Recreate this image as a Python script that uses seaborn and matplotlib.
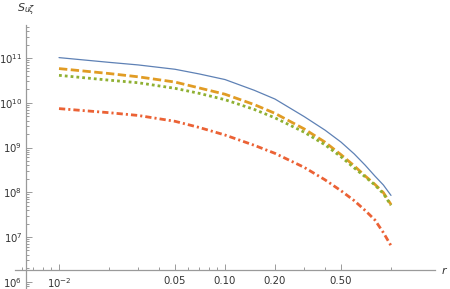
import numpy as np
import matplotlib
matplotlib.use("Agg")
import matplotlib.pyplot as plt
import matplotlib.ticker as mticker
import seaborn as sns

# data (log-log)
r = [0.01, 0.02, 0.03, 0.05, 0.07, 0.1, 0.15, 0.2, 0.3, 0.4, 0.5, 0.6, 0.7, 0.8, 0.9, 1.0]
s_blue = [1.02e11, 8.0e10, 7.0e10, 5.6e10, 4.4e10, 3.3e10, 1.9e10, 1.21e10,
          4.9e9, 2.45e9, 1.32e9, 7.2e8, 4.0e8, 2.3e8, 1.45e8, 8.5e7]
s_orange = [5.8e10, 4.5e10, 3.8e10, 2.9e10, 2.14e10, 1.55e10, 9.1e9, 5.8e9,
            2.6e9, 1.32e9, 6.9e8, 3.9e8, 2.3e8, 1.5e8, 9.8e7, 5.3e7]
s_green = [4.1e10, 3.2e10, 2.8e10, 2.1e10, 1.62e10, 1.17e10, 7.1e9, 4.6e9,
           2.2e9, 1.15e9, 6.2e8, 3.5e8, 2.2e8, 1.45e8, 9.3e7, 5.1e7]
s_red = [7.4e9, 6.0e9, 5.2e9, 3.85e9, 2.8e9, 1.9e9, 1.12e9, 7.4e8,
         3.6e8, 1.9e8, 1.08e8, 6.5e7, 3.9e7, 2.4e7, 1.25e7, 6.4e6]

xticks = [0.01, 0.05, 0.1, 0.2, 0.5]
xtick_labels = ["$10^{-2}$", "0.05", "0.10", "0.20", "0.50"]
xminor = [0.006, 0.007, 0.008, 0.009, 0.02, 0.03, 0.04, 0.06, 0.07, 0.08, 0.09, 0.3, 0.4, 1.0]
yticks = [1e6, 1e7, 1e8, 1e9, 1e10, 1e11]

sns.set_style("white")
plt.rcParams["lines.scale_dashes"] = False
plt.rcParams["font.family"] = ["DejaVu Sans"]
plt.rcParams["mathtext.fontset"] = "dejavusans"

fig = plt.figure(figsize=(4.5, 2.89), dpi=100)


# pixel -> log mapping of the reference picture
def px_to_r(px):
    return 10 ** (-2 + (px - 59) / 166.0)


def py_to_s(py):
    return 10 ** (11 - (py - 58) / 44.75)


ax = fig.add_axes([0, 0, 1, 1])
ax.set_xscale("log")
ax.set_yscale("log")
ax.set_xlim(px_to_r(0), px_to_r(450))
ax.set_ylim(py_to_s(289), py_to_s(0))

sns.lineplot(x=r, y=s_blue, ax=ax, color="#5E81B5", lw=0.9)
sns.lineplot(x=r, y=s_orange, ax=ax, color="#E19C24", lw=2.0, linestyle=(0, (6, 2.5)))
sns.lineplot(x=r, y=s_green, ax=ax, color="#8FB032", lw=2.0, linestyle=(0, (2, 2.2)))
sns.lineplot(x=r, y=s_red, ax=ax, color="#EB6235", lw=2.0, linestyle=(0, (4.5, 2.2, 1.5, 2.2)))

axis_col = "#9a9a9a"
for side in ["top", "right"]:
    ax.spines[side].set_visible(False)
ax.spines["left"].set_position(("data", px_to_r(26)))
ax.spines["bottom"].set_position(("data", py_to_s(269.5)))
ax.spines["left"].set_bounds(py_to_s(288), py_to_s(25))
ax.spines["bottom"].set_bounds(px_to_r(15), px_to_r(435))
for side in ["left", "bottom"]:
    ax.spines[side].set_color(axis_col)
    ax.spines[side].set_linewidth(0.9)

ymin, ymax = py_to_s(288), py_to_s(25)
yminor = [m * 10.0 ** e for e in range(5, 12) for m in range(2, 10) if ymin <= m * 10.0 ** e <= ymax]

ax.xaxis.set_major_locator(mticker.FixedLocator(xticks))
ax.xaxis.set_major_formatter(mticker.FixedFormatter(xtick_labels))
ax.xaxis.set_minor_locator(mticker.FixedLocator(xminor))
ax.xaxis.set_minor_formatter(mticker.NullFormatter())
ax.yaxis.set_major_locator(mticker.FixedLocator(yticks))
ax.yaxis.set_major_formatter(mticker.LogFormatterSciNotation())
ax.yaxis.set_minor_locator(mticker.FixedLocator(yminor))
ax.yaxis.set_minor_formatter(mticker.NullFormatter())

ax.tick_params(which="both", direction="in", color=axis_col, width=0.7,
               bottom=True, left=True, labelsize=7.3, labelcolor="#333333")
ax.tick_params(which="major", length=4)
ax.tick_params(which="minor", length=2)
ax.tick_params(axis="x", which="major", pad=5)
ax.tick_params(axis="y", which="major", pad=2.5)

fig.text(17 / 450, 1 - 10 / 289, r"$S_{u\zeta}$", fontsize=8, color="#333333", va="center", ha="left")
fig.text(441 / 450, 1 - 270 / 289, r"$r$", fontsize=8, color="#333333", va="center", ha="left")

fig.savefig("out.png", dpi=100)
